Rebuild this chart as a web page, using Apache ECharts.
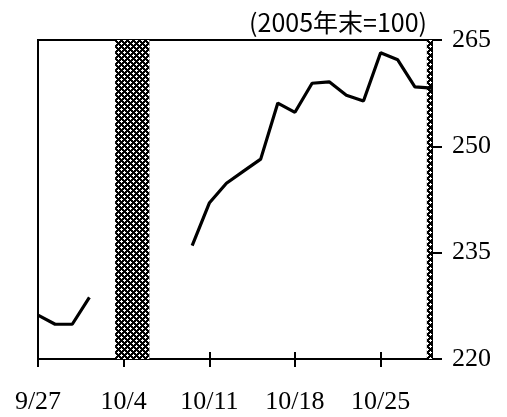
<!DOCTYPE html>
<html>
<head>
<meta charset="utf-8">
<script src="https://cdn.jsdelivr.net/npm/echarts@6/dist/echarts.min.js"></script>
<style>
html,body{margin:0;padding:0;background:#fff;}
#chart{width:507px;height:417px;}
</style>
</head>
<body>
<div id="chart"></div>
<script>
// trading-day positions (Mon-Fri), 9/27 = 0
const tickPositions = [0, 5, 10, 15, 20];
const tickLabels = ['9/27', '10/4', '10/11', '10/18', '10/25'];
// index values (2005年末=100), null = no data
const indexValues = [
  226.2, 224.9, 224.9, 228.7, null,
  null, null, null, null, 236.0,
  242.0, 244.8, 246.5, 248.2, 256.1,
  254.8, 258.9, 259.1, 257.2, 256.4,
  263.2, 262.2, 258.4, 258.2
];
const shadedBands = [[4.5, 6.5], [22.7, 23]];
const yTicks = [220, 235, 250, 265];
const unitLabel = '(2005年末=100)';

const tile = document.createElement('canvas');
tile.width = 6; tile.height = 6;
const tc = tile.getContext('2d');
tc.fillStyle = '#000'; tc.fillRect(0, 0, 6, 6);
tc.fillStyle = '#fff';
[[1,1],[4,4]].forEach(([cx, cy]) => {
  tc.fillRect(cx - 1, cy, 3, 1);
  tc.fillRect(cx, cy - 1, 1, 3);
});

const serif = 'Liberation Serif';
const chart = echarts.init(document.getElementById('chart'), null, {renderer: 'canvas'});
const lineData = indexValues.map((v, i) => [i, v]);

const xBase = {
  type: 'value', min: 0, max: 23, position: 'bottom',
  axisLine: {show: true, onZero: false, lineStyle: {color: '#000', width: 2}},
  splitLine: {show: false}
};

chart.setOption({
  animation: false,
  title: {
    text: unitLabel, right: 75, top: 5,
    textStyle: {fontFamily: 'Noto Sans CJK JP', fontSize: 25, fontWeight: 'normal', color: '#000'}
  },
  grid: {left: 38, right: 75, top: 40, bottom: 58, show: true, borderColor: '#000', borderWidth: 2, backgroundColor: 'transparent'},
  xAxis: [
    Object.assign({}, xBase, {
      axisTick: {show: true, inside: false, length: 8, lineStyle: {color: '#000', width: 2}, customValues: tickPositions},
      axisLabel: {
        show: true, margin: 30, customValues: tickPositions,
        fontFamily: serif, fontSize: 26, color: '#000',
        formatter: v => { const k = tickPositions.indexOf(v); return k >= 0 ? tickLabels[k] : ''; }
      }
    }),
    Object.assign({}, xBase, {
      axisTick: {show: true, inside: true, length: 7, lineStyle: {color: '#000', width: 2}, customValues: tickPositions},
      axisLabel: {show: false}
    })
  ],
  yAxis: {
    type: 'value', min: 220, max: 265, interval: 15, position: 'right',
    axisLine: {show: true, onZero: false, lineStyle: {color: '#000', width: 2}},
    axisTick: {show: true, inside: false, length: 10, lineStyle: {color: '#000', width: 2}},
    splitLine: {show: false},
    axisLabel: {margin: 20, fontFamily: serif, fontSize: 26, color: '#000'}
  },
  series: [{
    type: 'line',
    data: lineData,
    showSymbol: false,
    connectNulls: false,
    lineStyle: {color: '#000', width: 3.2},
    z: 3,
    markArea: {
      silent: true,
      itemStyle: {color: {image: tile, repeat: 'repeat'}},
      data: shadedBands.map(b => [{xAxis: b[0]}, {xAxis: b[1]}])
    }
  }]
});
</script>
</body>
</html>
